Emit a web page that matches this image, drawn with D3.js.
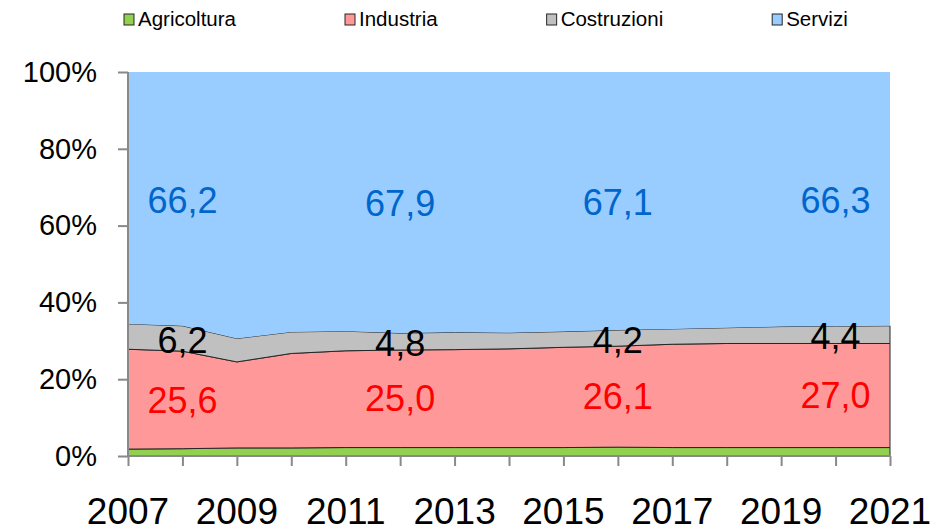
<!DOCTYPE html>
<meta charset="utf-8">
<style>
	body { margin: 0; background: #fff; font-family: "Liberation Sans", Arial, sans-serif; }
	text { fill: #000; }
</style>
<body>
<svg id="chart" width="945" height="532"></svg>
<script src="https://d3js.org/d3.v7.min.js"></script>
<script>
	// anni e quote (%) per settore
	var years = [2007, 2008, 2009, 2010, 2011, 2012, 2013, 2014, 2015, 2016, 2017, 2018, 2019, 2020, 2021];
	var agricoltura = [1.8, 1.9, 2.1, 2.1, 2.2, 2.2, 2.2, 2.2, 2.2, 2.3, 2.2, 2.2, 2.2, 2.2, 2.2];
	var industria   = [26.0, 25.4, 22.4, 24.6, 25.2, 25.4, 25.5, 25.7, 26.1, 26.3, 26.9, 27.1, 27.1, 27.1, 27.1];
	var costruzioni = [6.6, 6.6, 6.1, 5.6, 5.1, 4.4, 4.5, 4.2, 4.1, 4.2, 4.0, 4.1, 4.4, 4.5, 4.6];
	var servizi     = [65.6, 66.1, 69.4, 67.7, 67.5, 68.0, 67.8, 67.9, 67.6, 67.2, 66.9, 66.6, 66.3, 66.2, 66.1];

	var seriesNames = ["Agricoltura", "Industria", "Costruzioni", "Servizi"];
	var yTicks = [0, 20, 40, 60, 80, 100];
	var yearLabels = [2007, 2009, 2011, 2013, 2015, 2017, 2019, 2021];

	// etichette medie di periodo
	var labelYears = [2008, 2012, 2016, 2020];
	var labelIndustria   = ["25,6", "25,0", "26,1", "27,0"];
	var labelCostruzioni = ["6,2", "4,8", "4,2", "4,4"];
	var labelServizi     = ["66,2", "67,9", "67,1", "66,3"];

	var colors = {Agricoltura: "#92D050", Industria: "#FF9999", Costruzioni: "#C0C0C0", Servizi: "#99CCFF"};

	var svg = d3.select("#chart");
	var x = d3.scaleLinear().domain([2007, 2021]).range([128, 890]);
	var y = d3.scaleLinear().domain([0, 100]).range([456, 72]);

	var rows = years.map(function(yr, i) {
		return {year: yr, Agricoltura: agricoltura[i], Industria: industria[i], Costruzioni: costruzioni[i], Servizi: servizi[i]};
	});

	var stacked = d3.stack().keys(seriesNames)(rows);

	var area = d3.area()
		.x(function(d) { return x(d.data.year); })
		.y0(function(d) { return y(d[0]); })
		.y1(function(d) { return y(Math.min(d[1], 100)); });

	svg.append("g").selectAll("path")
		.data(stacked)
		.enter().append("path")
		.attr("d", area)
		.attr("fill", function(d) { return colors[d.key]; })
		.attr("stroke", function(d) { return d.key == "Servizi" ? "none" : "#262626"; })
		.attr("stroke-width", 1);

	// assi
	var yAxis = svg.append("g")
		.attr("transform", "translate(128,0)")
		.call(d3.axisLeft(y).tickValues(yTicks).tickSize(10).tickPadding(21).tickFormat(function(d) { return d + "%"; }));
	yAxis.select(".domain").attr("stroke", "#898989").attr("stroke-width", 2).attr("d", "M0," + y(100) + "V" + y(0));
	yAxis.selectAll(".tick line").attr("stroke", "#898989").attr("stroke-width", 2);
	yAxis.selectAll(".tick text").attr("font-size", 29).attr("font-family", "Liberation Sans, Arial").attr("fill", "#000");

	var xAxis = svg.append("g")
		.attr("transform", "translate(0,456)")
		.call(d3.axisBottom(x).tickValues(years).tickSize(10).tickFormat(""));
	xAxis.select(".domain").attr("stroke", "#898989").attr("stroke-width", 2).attr("d", "M" + x(2007) + ",0H" + x(2021));
	xAxis.selectAll(".tick line").attr("stroke", "#898989").attr("stroke-width", 2);

	svg.append("g").selectAll("text")
		.data(yearLabels)
		.enter().append("text")
		.attr("x", function(d) { return x(d); })
		.attr("y", 524)
		.attr("text-anchor", "middle")
		.attr("font-size", 37)
		.text(function(d) { return d; });

	// etichette dati
	function bandMid(key, yr) {
		var s = stacked.find(function(s) { return s.key == key; });
		var p = s[years.indexOf(yr)];
		return y((p[0] + Math.min(p[1], 100)) / 2);
	}
	function drawLabels(key, texts, color, dy) {
		svg.append("g").selectAll("text")
			.data(labelYears)
			.enter().append("text")
			.attr("x", function(d) { return x(d); })
			.attr("y", function(d) { return bandMid(key, d) + dy; })
			.attr("dy", "0.35em")
			.attr("text-anchor", "middle")
			.attr("font-size", 36)
			.style("fill", color)
			.text(function(d, i) { return texts[i]; });
	}
	drawLabels("Servizi", labelServizi, "#0066CC", 1);
	drawLabels("Costruzioni", labelCostruzioni, "#000000", 2);
	drawLabels("Industria", labelIndustria, "#FF0000", 0);

	// legenda
	var legend = svg.append("g");
	var lx = 124;
	seriesNames.forEach(function(name) {
		legend.append("rect")
			.attr("x", lx).attr("y", 14).attr("width", 10).attr("height", 11)
			.attr("fill", colors[name]).attr("stroke", "#262626").attr("stroke-width", 1);
		var t = legend.append("text")
			.attr("x", lx + 14).attr("y", 26)
			.attr("font-size", 20.5)
			.text(name);
		lx += 14 + t.node().getComputedTextLength() + 109;
	});
</script>
</body>
